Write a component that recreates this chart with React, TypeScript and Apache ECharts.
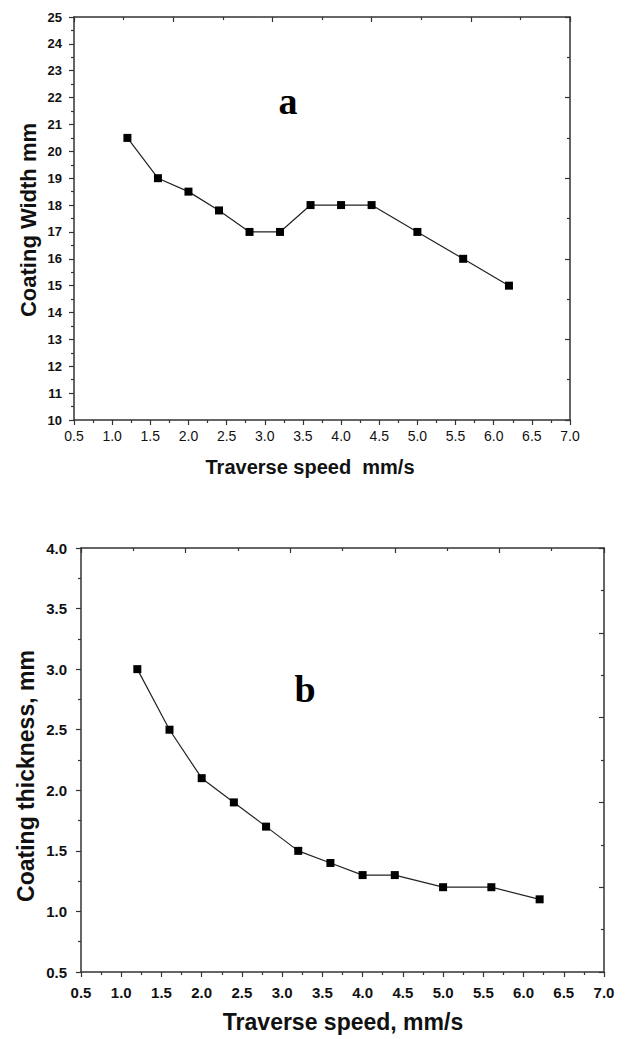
import React, { useEffect, useRef } from "react";
import * as echarts from "echarts";

const speedA = [1.2, 1.6, 2.0, 2.4, 2.8, 3.2, 3.6, 4.0, 4.4, 5.0, 5.6, 6.2];
const widthA = [20.5, 19, 18.5, 17.8, 17, 17, 18, 18, 18, 17, 16, 15];
const speedB = [1.2, 1.6, 2.0, 2.4, 2.8, 3.2, 3.6, 4.0, 4.4, 5.0, 5.6, 6.2];
const thickB = [3.0, 2.5, 2.1, 1.9, 1.7, 1.5, 1.4, 1.3, 1.3, 1.2, 1.2, 1.1];

const AX = "#333";
const SANS = "'Liberation Sans', Arial, sans-serif";
const SERIF = "'Liberation Serif', 'Times New Roman', serif";

function mkX(grid: number, min: number, max: number, labelSize: number, labelWeight: string, margin: number) {
  return [
    {
      type: "value", gridIndex: grid, position: "bottom", min, max, interval: 0.5,
      axisLine: { show: true, onZero: false, lineStyle: { color: AX, width: 1.5 } },
      axisTick: { show: true, inside: false, length: 5, lineStyle: { color: AX, width: 1.2 } },
      minorTick: { show: true, splitNumber: 2, length: 3, lineStyle: { color: AX, width: 1.2 } },
      splitLine: { show: false },
      axisLabel: { show: true, margin, color: "#111", fontFamily: SANS, fontSize: labelSize, fontWeight: labelWeight, formatter: (v: number) => v.toFixed(1) },
    },
    {
      type: "value", gridIndex: grid, position: "top", min, max, interval: 1.3,
      axisLine: { show: true, onZero: false, lineStyle: { color: AX, width: 1.5 } },
      axisTick: { show: true, inside: true, length: 5, lineStyle: { color: AX, width: 1.2 } },
      minorTick: { show: true, splitNumber: 2, length: 3, lineStyle: { color: AX, width: 1.2 } },
      splitLine: { show: false },
      axisLabel: { show: false },
    },
  ];
}

function mkY(grid: number, min: number, max: number, interval: number, rightInterval: number, labelSize: number, margin: number, fmt: (v: number) => string) {
  return [
    {
      type: "value", gridIndex: grid, position: "left", min, max, interval,
      axisLine: { show: true, onZero: false, lineStyle: { color: AX, width: 1.5 } },
      axisTick: { show: true, inside: false, length: 5, lineStyle: { color: AX, width: 1.2 } },
      minorTick: { show: true, splitNumber: 2, length: 3, lineStyle: { color: AX, width: 1.2 } },
      splitLine: { show: false },
      axisLabel: { show: true, margin, color: "#111", fontFamily: SANS, fontSize: labelSize, fontWeight: "bold", formatter: fmt },
    },
    {
      type: "value", gridIndex: grid, position: "right", min, max, interval: rightInterval,
      axisLine: { show: true, onZero: false, lineStyle: { color: AX, width: 1.5 } },
      axisTick: { show: true, inside: true, length: 5, lineStyle: { color: AX, width: 1.2 } },
      minorTick: { show: true, splitNumber: 2, length: 3, lineStyle: { color: AX, width: 1.2 } },
      splitLine: { show: false },
      axisLabel: { show: false },
    },
  ];
}

export default function App() {
  const ref = useRef<HTMLDivElement>(null);
  useEffect(() => {
    document.body.style.margin = "0";
    const chart = echarts.init(ref.current!, null, { renderer: "svg" });
    const dataA = speedA.map((x, i) => [x, widthA[i]]);
    const dataB = speedB.map((x, i) => [x, thickB[i]]);
    chart.setOption({
      animation: false,
      backgroundColor: "#fff",
      grid: [
        { left: 74, top: 17, width: 496, height: 403, containLabel: false },
        { left: 81, top: 548, width: 523, height: 424, containLabel: false },
      ],
      xAxis: [
        ...mkX(0, 0.5, 7, 14, "normal", 9),
        ...mkX(1, 0.5, 7, 15, "bold", 13),
      ],
      yAxis: [
        ...mkY(0, 10, 25, 1, 3, 13, 12, (v: number) => String(v)),
        ...mkY(1, 0.5, 4, 0.5, 0.7, 15, 14, (v: number) => v.toFixed(1)),
      ],
      series: [
        {
          type: "line", xAxisIndex: 0, yAxisIndex: 0, data: dataA,
          symbol: "rect", symbolSize: 8,
          itemStyle: { color: "#000" },
          lineStyle: { color: "#222", width: 1.2 },
        },
        {
          type: "line", xAxisIndex: 2, yAxisIndex: 2, data: dataB,
          symbol: "rect", symbolSize: 8,
          itemStyle: { color: "#000" },
          lineStyle: { color: "#222", width: 1.2 },
        },
      ],
      graphic: [
        { type: "text", x: 310, y: 467, style: { text: "Traverse speed  mm/s", font: `bold 20px ${SANS}`, fill: "#111", textAlign: "center", textVerticalAlign: "middle" } },
        { type: "text", x: 343, y: 1022, style: { text: "Traverse speed, mm/s", font: `bold 23px ${SANS}`, fill: "#111", textAlign: "center", textVerticalAlign: "middle" } },
        { type: "text", x: 28, y: 220, rotation: Math.PI / 2, style: { text: "Coating Width mm", font: `bold 22px ${SANS}`, fill: "#111", textAlign: "center", textVerticalAlign: "middle" } },
        { type: "text", x: 26, y: 776, rotation: Math.PI / 2, style: { text: "Coating thickness, mm", font: `bold 23px ${SANS}`, fill: "#111", textAlign: "center", textVerticalAlign: "middle" } },
        { type: "text", x: 288, y: 120, style: { text: "a", font: `bold 38px ${SERIF}`, fill: "#000", textAlign: "center", textVerticalAlign: "bottom" } },
        { type: "text", x: 305, y: 708, style: { text: "b", font: `bold 38px ${SERIF}`, fill: "#000", textAlign: "center", textVerticalAlign: "bottom" } },
      ],
    });
    return () => chart.dispose();
  }, []);
  return <div ref={ref} style={{ width: 627, height: 1039 }} />;
}
